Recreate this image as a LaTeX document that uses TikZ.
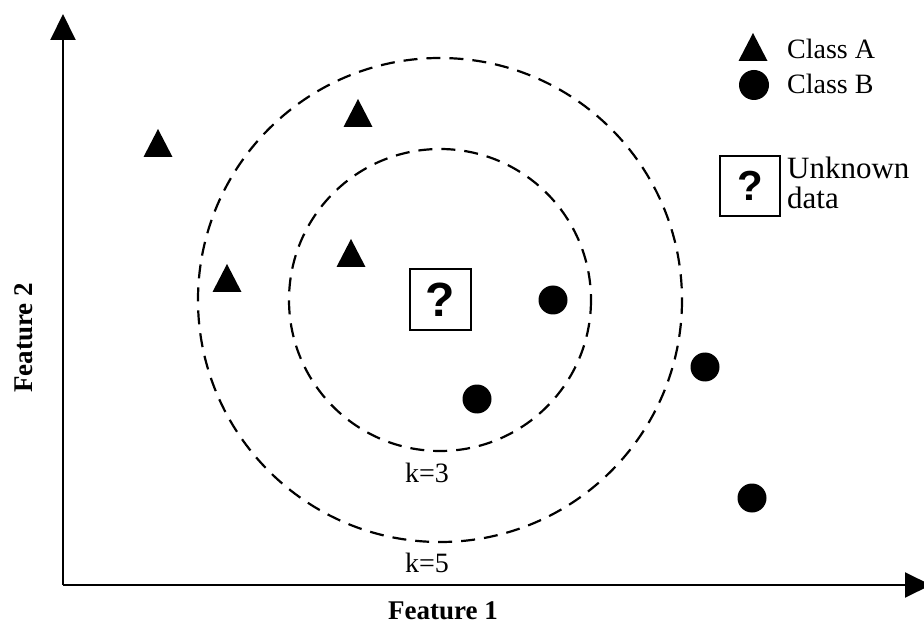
\documentclass[tikz,border=0pt]{standalone}
\usepackage{fontspec}
\setmainfont{Liberation Serif}
\newfontfamily\qfont{Liberation Sans}
\usetikzlibrary{arrows.meta}
\begin{document}
\begin{tikzpicture}[x=1pt,y=-1pt,
  axis/.style={line width=2pt,-{Triangle[length=26pt,width=25pt]}},
  ring/.style={line width=2.2pt,dash pattern=on 14pt off 9pt},
  qbox/.style={draw,line width=2pt,minimum size=61pt,inner sep=0pt,
    font=\qfont\bfseries\fontsize{48}{48}\selectfont},
  label/.style={font=\fontsize{28}{30}\selectfont,inner sep=0pt},
  biglabel/.style={font=\fontsize{31}{33}\selectfont,inner sep=0pt},
  axislabel/.style={font=\bfseries\fontsize{27}{30}\selectfont,inner sep=0pt},
  classA/.pic={\fill (-14.5,0) -- (0,-28) -- (14.5,0) -- cycle;},
  classB/.style={circle,fill,minimum size=29pt,inner sep=0pt}]
\useasboundingbox (0,0) rectangle (924,628);

% axes
\coordinate (O) at (63,585);
\coordinate (ytip) at (63,14);
\coordinate (xtip) at (931,585);
\draw[axis] (O) -- (ytip);
\draw[axis] (O) -- (xtip);
\node[axislabel,anchor=base] (f1) at (443,619) {Feature 1};
\node[axislabel,anchor=base,rotate=90] (f2) at (32,338) {Feature 2};

% neighbourhoods
\coordinate (c) at (440,300);
\draw[ring] (c) circle[radius=242];
\draw[ring] (c) circle[radius=151];
\node[label,anchor=base] (k3) at (427,482) {k=3};
\node[label,anchor=base] (k5) at (427,572) {k=5};

% class A samples
\pic at (158,157) {classA};
\pic at (358,127) {classA};
\pic at (351,267) {classA};
\pic at (227,292) {classA};

% class B samples
\node[classB] (b1) at (553,300) {};
\node[classB] (b2) at (477,399) {};
\node[classB] (b3) at (705,367) {};
\node[classB] (b4) at (752,498) {};

% query point
\node[qbox] (query) at (440,300) {?};

% legend
\pic at (753,61) {classA};
\node[label,anchor=base west] (la) at (787,59) {Class A};
\node[classB,minimum size=30pt] (lb) at (754,85) {};
\node[label,anchor=base west] (lbt) at (787,94) {Class B};
\node[qbox,minimum size=60pt,font=\qfont\bfseries\fontsize{42}{42}\selectfont] (lq) at (750,186) {?};
\node[biglabel,anchor=base west] (lu) at (787,179) {Unknown};
\node[biglabel,anchor=base west] (ld) at (787,209) {data};
\end{tikzpicture}
\end{document}
